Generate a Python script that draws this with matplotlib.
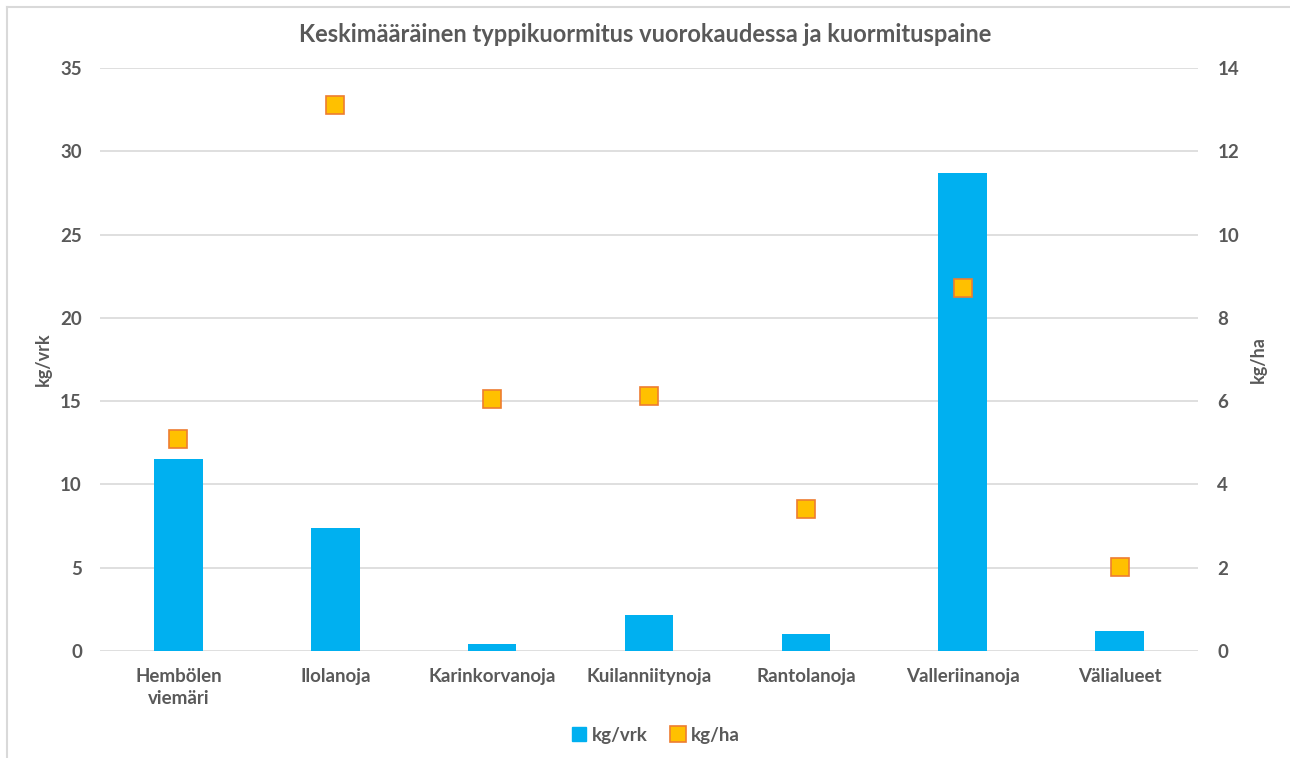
import numpy as np
import matplotlib.pyplot as plt
from matplotlib.lines import Line2D

# daily nitrogen load (kg/vrk) and load per area (kg/ha) per catchment
areas = ["Hembölen\nviemäri", "Ilolanoja", "Karinkorvanoja", "Kuilanniitynoja",
         "Rantolanoja", "Valleriinanoja", "Välialueet"]
kg_vrk = [11.5, 7.4, 0.42, 2.15, 1.02, 28.7, 1.2]
kg_ha = [5.1, 13.1, 6.05, 6.12, 3.42, 8.72, 2.02]

grey = "#595959"
plt.rcParams["font.family"] = ["Lato", "DejaVu Sans"]

fig = plt.figure(figsize=(12.9, 7.58), dpi=100)
ax = fig.add_axes([0.0775, 0.1412, 0.8512, 0.7691])
ax2 = ax.twinx()

x = np.arange(len(areas))
ax.bar(x, kg_vrk, width=0.31, color="#00B0F0", zorder=2)
ax2.plot(x, kg_ha, "s", ms=13, mfc="#FFC000", mec="#ED7D31", mew=1.2, zorder=3)

ax.set_xlim(-0.5, len(areas) - 0.5)
ax.set_ylim(0, 35)
ax.set_yticks(range(0, 36, 5))
ax2.set_ylim(0, 14)
ax2.set_yticks(range(0, 15, 2))

ax.grid(axis="y", color="#D9D9D9", lw=1.2, zorder=0)
ax.set_axisbelow(True)
for a in (ax, ax2):
    for s in a.spines.values():
        s.set_visible(False)
    a.tick_params(length=0, labelsize=13.5, labelcolor=grey)
    for lbl in a.get_yticklabels():
        lbl.set_fontweight("bold")
ax.tick_params(axis="y", pad=13)
ax2.tick_params(axis="y", pad=14)
ax.tick_params(axis="x", pad=12)
ax.set_xticks(x)
ax.set_xticklabels(areas, fontweight="bold", fontsize=13.5, color=grey, linespacing=1.35)

ax.set_ylabel("kg/vrk", fontsize=13, fontweight="bold", color=grey, labelpad=6)
ax2.set_ylabel("kg/ha", fontsize=13, fontweight="bold", color=grey, labelpad=8)

fig.text(0.5, 0.955, "Keskimääräinen typpikuormitus vuorokaudessa ja kuormituspaine",
         ha="center", va="center", fontsize=17, fontweight="bold", color=grey)

handles = [Line2D([], [], ls="", marker="s", ms=10, mfc="#00B0F0", mec="#00B0F0"),
           Line2D([], [], ls="", marker="s", ms=11, mfc="#FFC000", mec="#ED7D31", mew=1.2)]
leg = fig.legend(handles, ["kg/vrk", "kg/ha"], loc="center", bbox_to_anchor=(0.508, 0.03),
                 ncol=2, frameon=False, handlelength=0.8, handletextpad=0.3,
                 columnspacing=1.2, prop={"weight": "bold", "size": 13.5})
for t in leg.get_texts():
    t.set_color(grey)

# chart frame, left and top edges
fx, fy = 6.5 / 1290, 1 - 6.5 / 758
fig.add_artist(Line2D([fx, fx], [0, fy], transform=fig.transFigure, color="#D9D9D9", lw=1.5))
fig.add_artist(Line2D([fx, 1], [fy, fy], transform=fig.transFigure, color="#D9D9D9", lw=1.5))

fig.savefig("out.png", dpi=100)
